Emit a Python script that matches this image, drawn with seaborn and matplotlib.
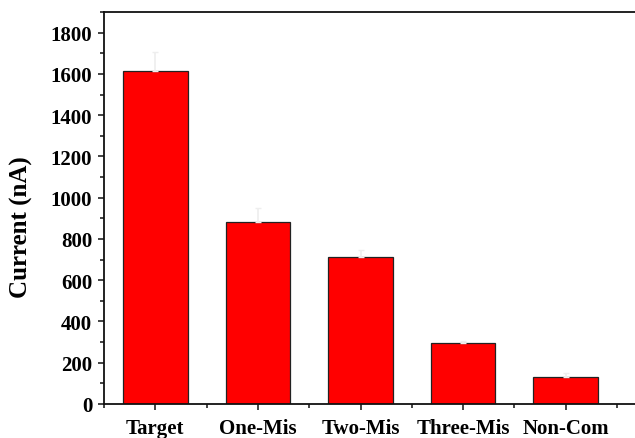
import matplotlib
matplotlib.use("Agg")
import matplotlib.pyplot as plt
from matplotlib.ticker import MultipleLocator, FixedLocator
import seaborn as sns
import pandas as pd
import numpy as np

categories = ["Target", "One-Mis", "Two-Mis", "Three-Mis", "Non-Com"]
current_na = [1612, 882, 714, 295, 130]
current_err = [95, 68, 32, 10, 22]

sns.set_theme(style="ticks")
plt.rcParams["font.family"] = ["Liberation Serif", "DejaVu Serif"]
plt.rcParams["font.weight"] = "bold"
plt.rcParams["text.color"] = "black"
plt.rcParams["axes.labelcolor"] = "black"
plt.rcParams["xtick.color"] = "black"
plt.rcParams["ytick.color"] = "black"

df = pd.DataFrame({"sample": categories, "current": current_na})

fig = plt.figure(figsize=(6.35, 4.39), dpi=100)
ax = fig.add_axes([104 / 635, 34 / 439, 615.6 / 635, 392 / 439])

sns.barplot(data=df, x="sample", y="current", order=categories,
            color="#ff0000", saturation=1, width=0.63,
            edgecolor="#222222", linewidth=0.9, errorbar=None, ax=ax)

xpos = np.arange(len(categories))
ax.errorbar(xpos, current_na, yerr=[np.zeros(len(current_err)), current_err],
            fmt="none", ecolor="#eeeeee", elinewidth=1.2, capsize=2.5,
            capthick=1.0, zorder=3)

ax.set_xlim(-0.5, 5.5)
ax.set_ylim(0, 1900)
ax.yaxis.set_major_locator(MultipleLocator(200))
ax.yaxis.set_minor_locator(MultipleLocator(100))
ax.xaxis.set_minor_locator(FixedLocator(np.arange(-0.5, 5.0, 1.0)))

for side in ["left", "bottom", "top", "right"]:
    ax.spines[side].set_visible(True)
    ax.spines[side].set_linewidth(1.3)
    ax.spines[side].set_color("#111111")

ax.tick_params(axis="both", which="major", direction="out", length=4.5,
               width=1.1, color="#111111", labelcolor="black",
               labelsize=15, pad=4)
ax.tick_params(axis="both", which="minor", direction="out", length=3,
               width=1.1, color="#111111")
ax.tick_params(axis="x", which="both", top=False)
ax.tick_params(axis="y", which="both", right=False)
ax.tick_params(axis="x", which="major", pad=5.5, labelsize=15)

for lbl in ax.get_xticklabels() + ax.get_yticklabels():
    lbl.set_fontweight("bold")

ax.set_xlabel("")
ax.set_ylabel("Current (nA)", fontsize=18, fontweight="bold", color="black")
ax.yaxis.set_label_coords(-71 / 615.6, 0.455)

fig.savefig("out.png", dpi=100)
